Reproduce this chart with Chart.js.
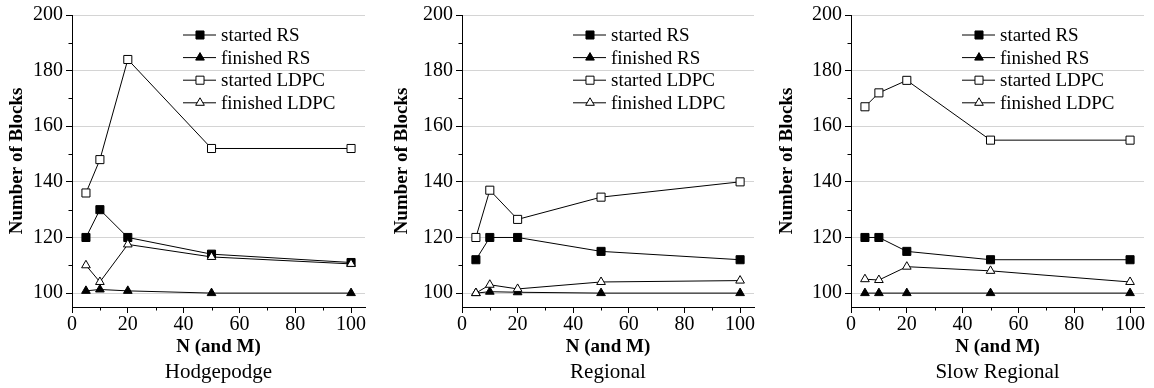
<!DOCTYPE html>
<html>
<head>
<meta charset="utf-8">
<script src="https://cdn.jsdelivr.net/npm/chart.js@4.4.1/dist/chart.umd.min.js"></script>
<style>
  html, body { margin: 0; padding: 0; background: #fff; }
  #wrap { position: relative; width: 1154px; height: 388px; }
  .panel { position: absolute; top: 0; height: 388px; }
</style>
</head>
<body>
<div id="wrap">
  <div class="panel" style="left:0;width:385px"><canvas id="c0"></canvas></div>
  <div class="panel" style="left:385px;width:385px"><canvas id="c1"></canvas></div>
  <div class="panel" style="left:770px;width:384px"><canvas id="c2"></canvas></div>
</div>
<script>
// ── Data ─────────────────────────────────────────────────────
const N_VALUES      = [5, 10, 20, 50, 100];
const SERIES_NAMES  = ['started RS', 'finished RS', 'started LDPC', 'finished LDPC'];
const PANEL_TITLES  = ['Hodgepodge', 'Regional', 'Slow Regional'];

const hodgeStartedRS     = [120, 130, 120, 114, 111];
const hodgeFinishedRS    = [100.8, 101.3, 100.8, 100, 100];
const hodgeStartedLDPC   = [136, 148, 184, 152, 152];
const hodgeFinishedLDPC  = [110, 104, 117.5, 113, 110.5];

const regStartedRS       = [112, 120, 120, 115, 112];
const regFinishedRS      = [100, 100.5, 100.3, 100, 100];
const regStartedLDPC     = [120, 137, 126.5, 134.5, 140];
const regFinishedLDPC    = [100, 103, 101.5, 104, 104.5];

const slowStartedRS      = [120, 120, 115, 112, 112];
const slowFinishedRS     = [100, 100, 100, 100, 100];
const slowStartedLDPC    = [167, 172, 176.5, 155, 155];
const slowFinishedLDPC   = [105, 104.7, 109.5, 108, 104];

const PANEL_SERIES = [
  [hodgeStartedRS, hodgeFinishedRS, hodgeStartedLDPC, hodgeFinishedLDPC],
  [regStartedRS, regFinishedRS, regStartedLDPC, regFinishedLDPC],
  [slowStartedRS, slowFinishedRS, slowStartedLDPC, slowFinishedLDPC],
];

// ── Styling / layout ─────────────────────────────────────────
const FONT = '"Liberation Serif", "Times New Roman", serif';
const PANEL_BOX = [
  { axis: 72, right: 20 },
  { axis: 77, right: 16 },
  { axis: 81, right: 10 },
];
const MARKERS = [
  { pointStyle: 'rect',     fill: '#000', radius: 5.7 },
  { pointStyle: 'triangle', fill: '#000', radius: 5 },
  { pointStyle: 'rect',     fill: '#fff', radius: 5.7 },
  { pointStyle: 'triangle', fill: '#fff', radius: 5 },
];
const isMajor = v => v % 20 === 0;

// legend drawn inside the plot area: short line + marker + label
const insideLegend = {
  id: 'insideLegend',
  afterDatasetsDraw(chart) {
    const { ctx, chartArea } = chart;
    ctx.save();
    chart.data.datasets.forEach((ds, i) => {
      const y  = chartArea.top + 20 + i * 22.6;
      const x0 = chartArea.left + 111;
      ctx.strokeStyle = '#000';
      ctx.lineWidth = 1;
      ctx.beginPath();
      ctx.moveTo(x0, y);
      ctx.lineTo(x0 + 33, y);
      ctx.stroke();
      ctx.fillStyle = ds.pointBackgroundColor;
      Chart.helpers.drawPoint(ctx, { pointStyle: ds.pointStyle, radius: ds.pointRadius, borderWidth: 1, rotation: 0 }, x0 + 17, y);
      ctx.fillStyle = '#000';
      ctx.font = `19px ${FONT}`;
      ctx.textAlign = 'left';
      ctx.textBaseline = 'middle';
      ctx.fillText(ds.label, x0 + 38, y + 1);
    });
    ctx.restore();
  },
};

// short minor tick marks at the odd tens
const minorTicks = {
  id: 'minorTicks',
  afterDraw(chart) {
    const { ctx } = chart;
    const xs = chart.scales.x, ys = chart.scales.y;
    ctx.save();
    ctx.strokeStyle = '#000';
    ctx.lineWidth = 1;
    ctx.beginPath();
    xs.ticks.forEach(t => {
      if (isMajor(t.value)) return;
      const px = Math.round(xs.getPixelForValue(t.value)) + 0.5;
      ctx.moveTo(px, xs.top);
      ctx.lineTo(px, xs.top + 3.5);
    });
    ys.ticks.forEach(t => {
      if (isMajor(t.value)) return;
      const py = Math.round(ys.getPixelForValue(t.value)) + 0.5;
      ctx.moveTo(ys.right, py);
      ctx.lineTo(ys.right - 3.5, py);
    });
    ctx.stroke();
    ctx.restore();
  },
};

// panel caption under the x-axis title, centred on the plot area
const panelCaption = {
  id: 'panelCaption',
  afterDraw(chart, args, opts) {
    const { ctx, chartArea } = chart;
    ctx.save();
    ctx.fillStyle = '#000';
    ctx.font = `21px ${FONT}`;
    ctx.textAlign = 'center';
    ctx.textBaseline = 'middle';
    ctx.fillText(opts.text, (chartArea.left + chartArea.right) / 2, 372);
    ctx.restore();
  },
};

function buildDatasets(series) {
  return series.map((values, i) => ({
    label: SERIES_NAMES[i],
    data: N_VALUES.map((n, k) => ({ x: n, y: values[k] })),
    borderColor: '#000',
    borderWidth: 1,
    pointStyle: MARKERS[i].pointStyle,
    pointRadius: MARKERS[i].radius,
    pointBackgroundColor: MARKERS[i].fill,
    pointBorderColor: '#000',
    pointBorderWidth: 1,
    tension: 0,
    order: 3 - i,
  }));
}

function makeChart(idx) {
  const box = PANEL_BOX[idx];
  return new Chart(document.getElementById('c' + idx), {
    type: 'line',
    data: { datasets: buildDatasets(PANEL_SERIES[idx]) },
    plugins: [insideLegend, minorTicks, panelCaption],
    options: {
      animation: false,
      responsive: true,
      maintainAspectRatio: false,
      layout: { padding: { top: 15, right: box.right, left: 0, bottom: 29 } },
      plugins: {
        legend: { display: false },
        tooltip: { enabled: false },
        panelCaption: { text: PANEL_TITLES[idx] },
      },
      scales: {
        x: {
          type: 'linear',
          min: 0,
          max: 105,
          afterFit: s => { s.height = 52; },
          border: { color: '#000', width: 1 },
          grid: {
            drawOnChartArea: false,
            tickLength: 6,
            tickColor: c => (c.tick && isMajor(c.tick.value) ? '#000' : 'rgba(0,0,0,0)'),
          },
          ticks: {
            stepSize: 10,
            includeBounds: false,
            padding: 0,
            color: '#000',
            font: { family: FONT, size: 20 },
            maxRotation: 0,
            autoSkip: false,
            callback: v => (isMajor(v) ? String(v) : ''),
          },
          title: {
            display: true,
            text: 'N (and M)',
            color: '#000',
            font: { family: FONT, size: 19, weight: 'bold' },
            padding: { top: 0, bottom: 1 },
          },
        },
        y: {
          type: 'linear',
          min: 95,
          max: 200,
          afterFit: s => { s.width = box.axis; },
          border: { color: '#000', width: 1 },
          grid: {
            tickLength: 6,
            tickColor: c => (c.tick && isMajor(c.tick.value) ? '#000' : 'rgba(0,0,0,0)'),
            color: c => (c.tick && isMajor(c.tick.value) ? '#d4d4d4' : 'rgba(0,0,0,0)'),
          },
          ticks: {
            stepSize: 10,
            includeBounds: false,
            padding: 3,
            color: '#000',
            font: { family: FONT, size: 20 },
            autoSkip: false,
            callback: v => (isMajor(v) ? String(v) : ''),
          },
          title: {
            display: true,
            text: 'Number of Blocks',
            color: '#000',
            font: { family: FONT, size: 19, weight: 'bold' },
            padding: { top: 6, bottom: 0 },
          },
        },
      },
    },
  });
}

[0, 1, 2].forEach(makeChart);
</script>
</body>
</html>
